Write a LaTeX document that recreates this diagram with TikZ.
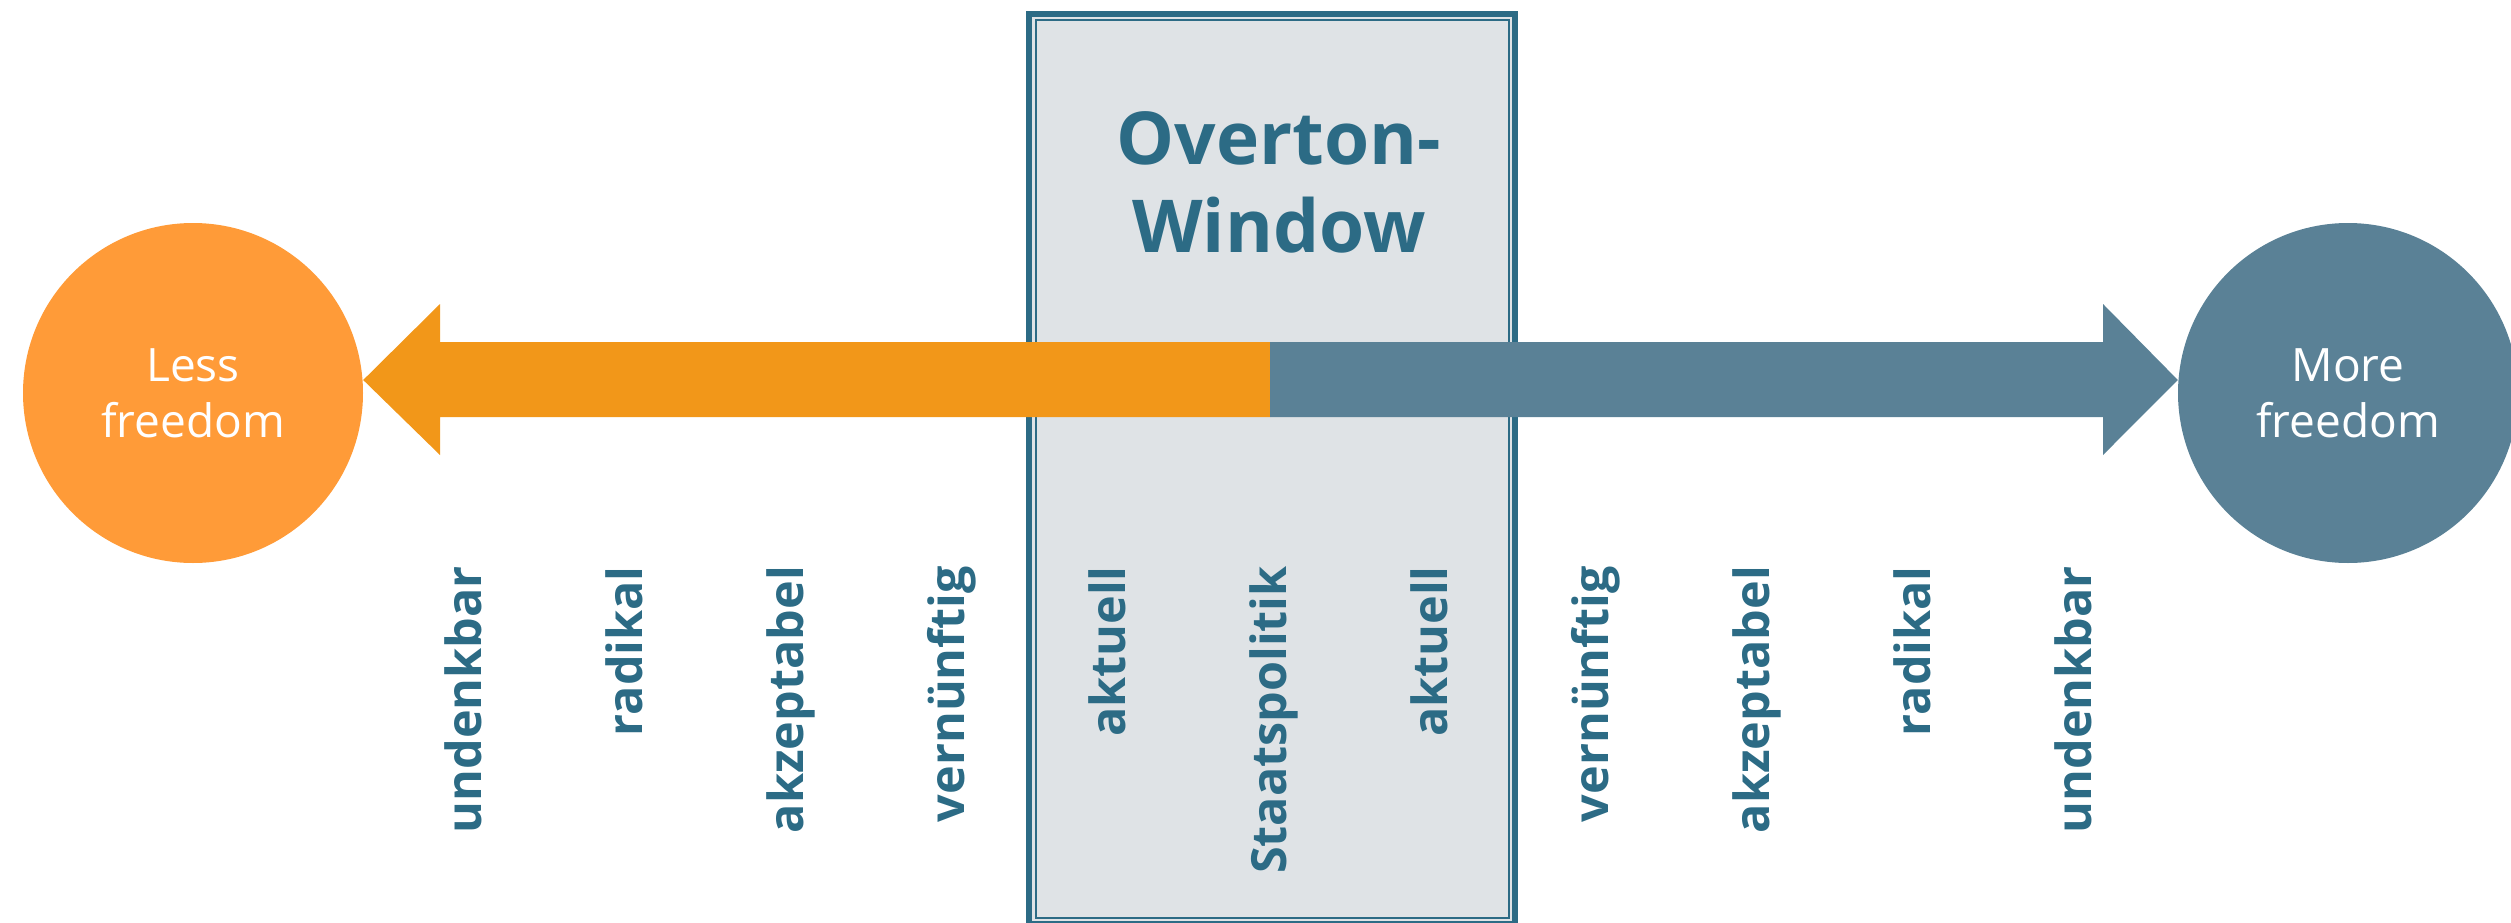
\documentclass[tikz,border=0pt]{standalone}
\usepackage{fontspec}
\setmainfont{Open Sans}
\definecolor{ovText}{HTML}{2C6B85}
\definecolor{ovBlue}{HTML}{5A8196}
\definecolor{ovOrange}{HTML}{F29719}
\definecolor{ovOrangeC}{HTML}{FF9B38}
\definecolor{ovBox}{HTML}{DFE3E6}
\tikzset{
  endcircle/.style={circle, minimum size=340pt, inner sep=0pt, text=white, align=center,
    font=\fontsize{46}{56}\selectfont},
  scalelabel/.style={rotate=90, anchor=base east, inner sep=0pt, text=ovText,
    font=\fontsize{48.5}{58}\selectfont\bfseries},
  titletext/.style={align=center, text=ovText, font=\fontsize{73}{88}\selectfont\bfseries}
}
\begin{document}
\begin{tikzpicture}[x=1pt, y=-1pt]
\useasboundingbox (0,0) rectangle (2511,923);
% window
\fill[ovBox] (1026,11) rectangle (1518,927);
\draw[ovText, line width=6pt] (1029,14) rectangle (1515,924);
\draw[ovText, line width=2pt] (1035.5,20) rectangle (1508.5,918);
\node[titletext] (title) at (1279,182) {Overton-\\Window};
% circles
\node[endcircle, fill=ovOrangeC] (less) at (193,393) {Less\\freedom};
\node[endcircle, fill=ovBlue] (more) at (2348,393) {More\\freedom};
% arrows
\coordinate (split) at (1270,380);
\fill[ovOrange] (split |- 0,342) -- (440,342) -- (440,304) -- (less.east |- split) -- (440,455) -- (440,417) -- (split |- 0,417) -- cycle;
\fill[ovBlue] (split |- 0,342) -- (2103,342) -- (2103,304) -- (more.west |- split) -- (2103,455) -- (2103,417) -- (split |- 0,417) -- cycle;
% labels
\node[scalelabel] (l1) at (481,566) {undenkbar};
\node[scalelabel] (l2) at (642,566) {radikal};
\node[scalelabel] (l3) at (803,566) {akzeptabel};
\node[scalelabel] (l4) at (964,566) {vernünftig};
\node[scalelabel] (w1) at (1125,566) {aktuell};
\node[scalelabel] (w2) at (1286,566) {Staatspolitik};
\node[scalelabel] (w3) at (1447,566) {aktuell};
\node[scalelabel] (r4) at (1608,566) {vernünftig};
\node[scalelabel] (r3) at (1769,566) {akzeptabel};
\node[scalelabel] (r2) at (1930,566) {radikal};
\node[scalelabel] (r1) at (2091,566) {undenkbar};
\end{tikzpicture}
\end{document}
